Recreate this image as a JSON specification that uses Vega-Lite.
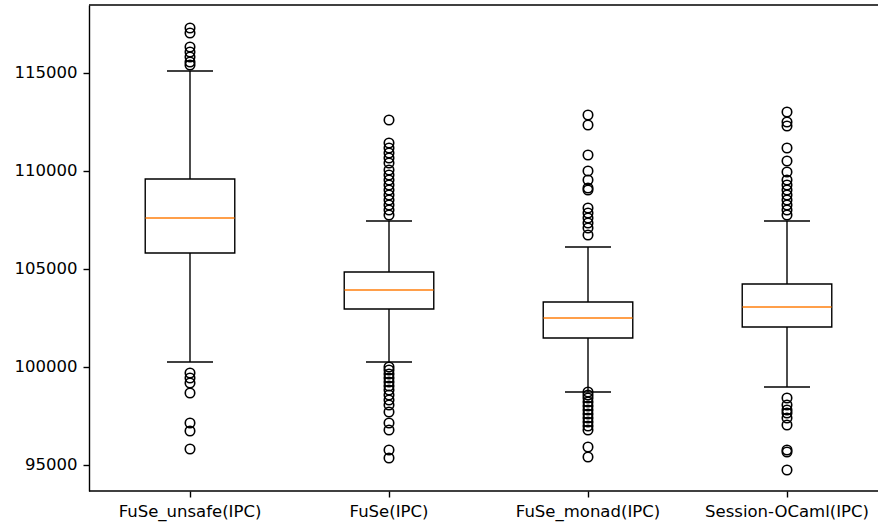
{
  "$schema": "https://vega.github.io/schema/vega-lite/v6.json",
  "autosize": {"type": "none"},
  "padding": {"left": 89, "top": 5, "right": 0, "bottom": 34},
  "width": 789,
  "height": 486,
  "background": "white",
  "config": {
    "view": {"stroke": null},
    "font": "DejaVu Sans",
    "axis": {
      "labelFont": "DejaVu Sans",
      "labelFontSize": 16.5,
      "labelColor": "#000000",
      "tickColor": "#000000",
      "domainColor": "#000000",
      "tickSize": 6,
      "tickWidth": 1.4,
      "domainWidth": 1.4,
      "labelPadding": 6,
      "grid": false,
      "title": null
    }
  },
  "datasets": {
    "stats": [
      {"group": "FuSe_unsafe(IPC)", "lo": 100255, "q1": 105816, "median": 107602, "q3": 109592, "hi": 115102},
      {"group": "FuSe(IPC)", "lo": 100255, "q1": 102959, "median": 103929, "q3": 104847, "hi": 107449},
      {"group": "FuSe_monad(IPC)", "lo": 98724, "q1": 101480, "median": 102500, "q3": 103316, "hi": 106122},
      {"group": "Session-OCaml(IPC)", "lo": 98980, "q1": 102041, "median": 103061, "q3": 104235, "hi": 107449}
    ],
    "outliers": [
      {"group": "FuSe_unsafe(IPC)", "value": 117296},
      {"group": "FuSe_unsafe(IPC)", "value": 117041},
      {"group": "FuSe_unsafe(IPC)", "value": 116327},
      {"group": "FuSe_unsafe(IPC)", "value": 116071},
      {"group": "FuSe_unsafe(IPC)", "value": 115816},
      {"group": "FuSe_unsafe(IPC)", "value": 115561},
      {"group": "FuSe_unsafe(IPC)", "value": 115408},
      {"group": "FuSe_unsafe(IPC)", "value": 99694},
      {"group": "FuSe_unsafe(IPC)", "value": 99439},
      {"group": "FuSe_unsafe(IPC)", "value": 99184},
      {"group": "FuSe_unsafe(IPC)", "value": 98673},
      {"group": "FuSe_unsafe(IPC)", "value": 97143},
      {"group": "FuSe_unsafe(IPC)", "value": 96735},
      {"group": "FuSe_unsafe(IPC)", "value": 95816},
      {"group": "FuSe(IPC)", "value": 112602},
      {"group": "FuSe(IPC)", "value": 111429},
      {"group": "FuSe(IPC)", "value": 111173},
      {"group": "FuSe(IPC)", "value": 110918},
      {"group": "FuSe(IPC)", "value": 110663},
      {"group": "FuSe(IPC)", "value": 110408},
      {"group": "FuSe(IPC)", "value": 110051},
      {"group": "FuSe(IPC)", "value": 109796},
      {"group": "FuSe(IPC)", "value": 109541},
      {"group": "FuSe(IPC)", "value": 109286},
      {"group": "FuSe(IPC)", "value": 109031},
      {"group": "FuSe(IPC)", "value": 108776},
      {"group": "FuSe(IPC)", "value": 108520},
      {"group": "FuSe(IPC)", "value": 108265},
      {"group": "FuSe(IPC)", "value": 108010},
      {"group": "FuSe(IPC)", "value": 107755},
      {"group": "FuSe(IPC)", "value": 100000},
      {"group": "FuSe(IPC)", "value": 99847},
      {"group": "FuSe(IPC)", "value": 99643},
      {"group": "FuSe(IPC)", "value": 99439},
      {"group": "FuSe(IPC)", "value": 99235},
      {"group": "FuSe(IPC)", "value": 99031},
      {"group": "FuSe(IPC)", "value": 98827},
      {"group": "FuSe(IPC)", "value": 98571},
      {"group": "FuSe(IPC)", "value": 98316},
      {"group": "FuSe(IPC)", "value": 98061},
      {"group": "FuSe(IPC)", "value": 97704},
      {"group": "FuSe(IPC)", "value": 97143},
      {"group": "FuSe(IPC)", "value": 96786},
      {"group": "FuSe(IPC)", "value": 95765},
      {"group": "FuSe(IPC)", "value": 95357},
      {"group": "FuSe_monad(IPC)", "value": 112857},
      {"group": "FuSe_monad(IPC)", "value": 112347},
      {"group": "FuSe_monad(IPC)", "value": 110816},
      {"group": "FuSe_monad(IPC)", "value": 110000},
      {"group": "FuSe_monad(IPC)", "value": 109541},
      {"group": "FuSe_monad(IPC)", "value": 109133},
      {"group": "FuSe_monad(IPC)", "value": 109031},
      {"group": "FuSe_monad(IPC)", "value": 108112},
      {"group": "FuSe_monad(IPC)", "value": 107857},
      {"group": "FuSe_monad(IPC)", "value": 107602},
      {"group": "FuSe_monad(IPC)", "value": 107347},
      {"group": "FuSe_monad(IPC)", "value": 107092},
      {"group": "FuSe_monad(IPC)", "value": 106735},
      {"group": "FuSe_monad(IPC)", "value": 98724},
      {"group": "FuSe_monad(IPC)", "value": 98571},
      {"group": "FuSe_monad(IPC)", "value": 98418},
      {"group": "FuSe_monad(IPC)", "value": 98214},
      {"group": "FuSe_monad(IPC)", "value": 98010},
      {"group": "FuSe_monad(IPC)", "value": 97806},
      {"group": "FuSe_monad(IPC)", "value": 97602},
      {"group": "FuSe_monad(IPC)", "value": 97398},
      {"group": "FuSe_monad(IPC)", "value": 97194},
      {"group": "FuSe_monad(IPC)", "value": 96990},
      {"group": "FuSe_monad(IPC)", "value": 96786},
      {"group": "FuSe_monad(IPC)", "value": 95918},
      {"group": "FuSe_monad(IPC)", "value": 95408},
      {"group": "Session-OCaml(IPC)", "value": 113010},
      {"group": "Session-OCaml(IPC)", "value": 112500},
      {"group": "Session-OCaml(IPC)", "value": 112296},
      {"group": "Session-OCaml(IPC)", "value": 111173},
      {"group": "Session-OCaml(IPC)", "value": 110510},
      {"group": "Session-OCaml(IPC)", "value": 109949},
      {"group": "Session-OCaml(IPC)", "value": 109541},
      {"group": "Session-OCaml(IPC)", "value": 109286},
      {"group": "Session-OCaml(IPC)", "value": 109031},
      {"group": "Session-OCaml(IPC)", "value": 108776},
      {"group": "Session-OCaml(IPC)", "value": 108520},
      {"group": "Session-OCaml(IPC)", "value": 108265},
      {"group": "Session-OCaml(IPC)", "value": 108010},
      {"group": "Session-OCaml(IPC)", "value": 107755},
      {"group": "Session-OCaml(IPC)", "value": 98418},
      {"group": "Session-OCaml(IPC)", "value": 98061},
      {"group": "Session-OCaml(IPC)", "value": 97806},
      {"group": "Session-OCaml(IPC)", "value": 97653},
      {"group": "Session-OCaml(IPC)", "value": 97398},
      {"group": "Session-OCaml(IPC)", "value": 97041},
      {"group": "Session-OCaml(IPC)", "value": 95765},
      {"group": "Session-OCaml(IPC)", "value": 95663},
      {"group": "Session-OCaml(IPC)", "value": 94745}
    ]
  },
  "layer": [
    {
      "data": {"name": "stats"},
      "mark": {"type": "rule", "color": "#000000", "strokeWidth": 1.4},
      "encoding": {
        "x": {"field": "group", "type": "nominal", "sort": null,
          "scale": {"domain": ["FuSe_unsafe(IPC)", "FuSe(IPC)", "FuSe_monad(IPC)", "Session-OCaml(IPC)"], "range": [1.5, 797.5], "paddingInner": 0, "paddingOuter": 0},
          "axis": {"labelAngle": 0, "domain": false, "title": null}},
        "y": {"field": "lo", "type": "quantitative",
          "scale": {"domain": [93673, 118469], "nice": false, "zero": false},
          "axis": {"values": [95000, 100000, 105000, 110000, 115000], "format": "d", "title": null, "domain": true}},
        "y2": {"field": "hi"}
      }
    },
    {
      "data": {"name": "stats"},
      "mark": {"type": "bar", "fill": "#ffffff", "stroke": "#000000", "strokeWidth": 1.4, "width": {"band": 0.45}},
      "encoding": {
        "x": {"field": "group", "type": "nominal"},
        "y": {"field": "q1", "type": "quantitative"},
        "y2": {"field": "q3"}
      }
    },
    {
      "data": {"name": "stats"},
      "mark": {"type": "tick", "color": "#ff7f0e", "size": 89, "thickness": 1.5, "opacity": 1},
      "encoding": {
        "x": {"field": "group", "type": "nominal"},
        "y": {"field": "median", "type": "quantitative"}
      }
    },
    {
      "data": {"name": "stats"},
      "mark": {"type": "tick", "color": "#000000", "size": 46, "thickness": 1.4, "opacity": 1},
      "encoding": {
        "x": {"field": "group", "type": "nominal"},
        "y": {"field": "lo", "type": "quantitative"}
      }
    },
    {
      "data": {"name": "stats"},
      "mark": {"type": "tick", "color": "#000000", "size": 46, "thickness": 1.4, "opacity": 1},
      "encoding": {
        "x": {"field": "group", "type": "nominal"},
        "y": {"field": "hi", "type": "quantitative"}
      }
    },
    {
      "data": {"name": "outliers"},
      "mark": {"type": "point", "shape": "circle", "filled": false, "stroke": "#000000", "strokeWidth": 1.6, "size": 90, "opacity": 1},
      "encoding": {
        "x": {"field": "group", "type": "nominal"},
        "y": {"field": "value", "type": "quantitative"}
      }
    },
    {
      "data": {"values": [{}]},
      "mark": {"type": "rule", "color": "#000000", "strokeWidth": 1.4},
      "encoding": {"y": {"datum": 118469, "type": "quantitative"}}
    },
    {
      "data": {"values": [{}]},
      "mark": {"type": "rule", "color": "#000000", "strokeWidth": 1.4},
      "encoding": {"y": {"datum": 93673, "type": "quantitative"}}
    }
  ]
}
